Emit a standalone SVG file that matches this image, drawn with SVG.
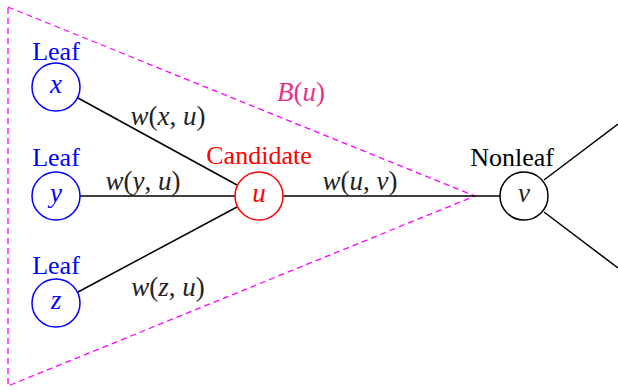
<svg xmlns="http://www.w3.org/2000/svg" width="618" height="392" viewBox="0 0 618 392">
<style>
text{font-family:"Liberation Serif","Times New Roman",serif;font-size:26px;text-anchor:middle}
.m{font-size:27px}
.i{font-style:italic}
.leaf circle{fill:#fff;stroke:#0000ff;stroke-width:1.5}
.leaf text{fill:#0000ff}
.edge{stroke:#000;stroke-width:1.5;fill:none}
.lbl{fill:#222}
</style>
<rect width="618" height="392" fill="#fff"/>
<g id="region">
<polygon points="8,7 475,196 8,386" fill="none" stroke="#ff00ff" stroke-width="1.3" stroke-dasharray="6,4"/>
<text x="301" y="101" class="m i" fill="#e8308c">B<tspan font-style="normal">(</tspan>u<tspan font-style="normal">)</tspan></text>
</g>
<g id="connectors">
<line class="edge" x1="78" y1="98" x2="237" y2="185"/>
<line class="edge" x1="80" y1="196" x2="235" y2="196"/>
<line class="edge" x1="78" y1="292" x2="237" y2="207"/>
<line class="edge" x1="283" y1="196" x2="500" y2="196"/>
<line class="edge" x1="544" y1="180" x2="618" y2="124"/>
<line class="edge" x1="544" y1="212" x2="618" y2="268"/>
<text class="lbl m" x="168" y="125"><tspan class="i">w</tspan>(<tspan class="i">x</tspan>, <tspan class="i">u</tspan>)</text>
<text class="lbl m" x="143" y="190"><tspan class="i">w</tspan>(<tspan class="i">y</tspan>, <tspan class="i">u</tspan>)</text>
<text class="lbl m" x="168" y="296"><tspan class="i">w</tspan>(<tspan class="i">z</tspan>, <tspan class="i">u</tspan>)</text>
<text class="lbl m" x="360" y="190"><tspan class="i">w</tspan>(<tspan class="i">u</tspan>, <tspan class="i">v</tspan>)</text>
</g>
<g id="node-x" class="leaf">
<circle cx="56" cy="87" r="24"/>
<text x="56" y="93" class="m i">x</text>
<text x="56" y="60">Leaf</text>
</g>
<g id="node-y" class="leaf">
<circle cx="56" cy="196" r="24"/>
<text x="56" y="202" class="m i">y</text>
<text x="56" y="166">Leaf</text>
</g>
<g id="node-z" class="leaf">
<circle cx="56" cy="303" r="24"/>
<text x="56" y="309" class="m i">z</text>
<text x="56" y="274">Leaf</text>
</g>
<g id="node-u">
<circle cx="259" cy="196" r="24" fill="#fff" stroke="#ff0000" stroke-width="1.5"/>
<text x="259" y="202" class="m i" fill="#ff0000">u</text>
<text x="259" y="164" fill="#ff0000">Candidate</text>
</g>
<g id="node-v">
<circle cx="524" cy="196" r="24" fill="#fff" stroke="#000" stroke-width="1.5"/>
<text x="524" y="202" class="m i" fill="#222">v</text>
<text x="512" y="166" fill="#000">Nonleaf</text>
</g>
</svg>
